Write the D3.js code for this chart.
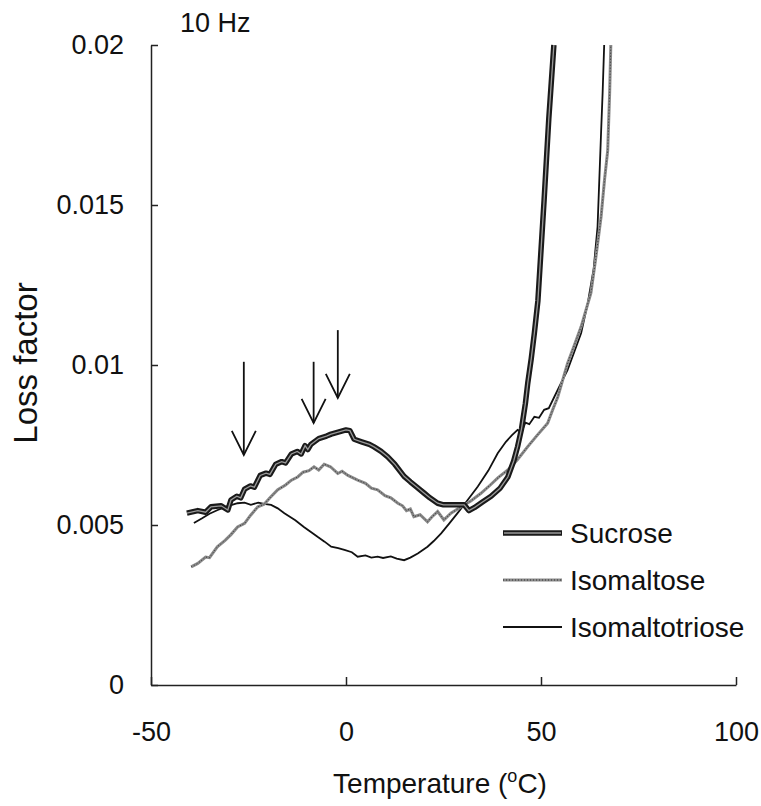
<!DOCTYPE html>
<html>
<head>
<meta charset="utf-8">
<script src="https://cdn.jsdelivr.net/npm/d3@7"></script>
<style>
  body { margin: 0; background: #fff; }
  text { font-family: "Liberation Sans", Arial, sans-serif; fill: #111; }
</style>
</head>
<body>
<svg id="chart" width="761" height="806"></svg>
<script>
// data (temperature in degC, loss factor)
var xTicks = [-50, 0, 50, 100]
var yTicks = [0, 0.005, 0.01, 0.015, 0.02]
var yTickLabels = ["0", "0.005", "0.01", "0.015", "0.02"]
var seriesNames = ["Sucrose", "Isomaltose", "Isomaltotriose"]

var sucroseT = [-40.8, -38, -36, -34.6, -32, -30.3, -29.5, -28, -27, -26, -24.5, -23.5, -22, -20.5, -19.5,
    -18, -16.5, -15.5, -14, -12.5, -11.5, -10.5, -9.8, -9, -7, -5, -3.8, -2, 0, 1, 2.1, 4, 6, 7.2, 9,
    10.7, 12.5, 14.9, 16.5, 18, 20, 21.5, 23.5, 25, 27, 30.3, 31.5, 33, 35, 37.2, 39.5, 41.5, 43, 44,
    45, 46, 46.6, 47.5, 48.3, 49.2, 50.8, 52, 53.3]
var sucroseL = [0.00537, 0.00545, 0.0054, 0.00557, 0.0056, 0.00547, 0.00578, 0.0059, 0.00585, 0.00612,
    0.00622, 0.00618, 0.00655, 0.00662, 0.00658, 0.0069, 0.00698, 0.00694, 0.00722, 0.0073, 0.00722,
    0.00748, 0.00736, 0.00752, 0.0077, 0.00778, 0.00784, 0.0079, 0.00797, 0.00795, 0.00768, 0.0076,
    0.00752, 0.00744, 0.0073, 0.00713, 0.0069, 0.00652, 0.00635, 0.0062, 0.006, 0.00585, 0.00568,
    0.00563, 0.00563, 0.00563, 0.00545, 0.00555, 0.00572, 0.0059, 0.00615, 0.0065, 0.007, 0.00745,
    0.008, 0.0088, 0.00943, 0.0102, 0.011, 0.012, 0.01516, 0.0177, 0.02]

var isomaltoseT = [-39.7, -38, -36, -35, -33, -31, -29.5, -27.8, -26, -24.5, -22.6, -21, -19.5, -17.5,
    -15.5, -14, -12.4, -11, -9.5, -8.2, -7, -5.6, -4, -2.1, -1, 0.5, 3, 5, 6.5, 8.1, 10, 11.5, 13.3,
    14.5, 15.5, 16.5, 17.4, 19, 20.9, 22, 23.5, 25.1, 26.9, 28, 29.5, 32, 34.6, 37, 39, 41.5, 44, 46.6,
    49, 51.7, 53, 54.3, 56.8, 58.5, 60.3, 62.8, 64, 65.4, 66.3, 67.1, 67.6, 67.9]
var isomaltoseL = [0.00369, 0.0038, 0.004, 0.00398, 0.00432, 0.00452, 0.0047, 0.00494, 0.00505, 0.0053,
    0.00557, 0.00565, 0.00585, 0.0061, 0.00625, 0.0064, 0.0065, 0.00665, 0.0067, 0.00682, 0.00672,
    0.0069, 0.00682, 0.00661, 0.00668, 0.00655, 0.0064, 0.0063, 0.00615, 0.0061, 0.00592, 0.00585,
    0.00568, 0.0056, 0.00545, 0.0055, 0.00526, 0.00532, 0.0051, 0.00525, 0.00542, 0.00516, 0.00537,
    0.00545, 0.00557, 0.00575, 0.00599, 0.00625, 0.00648, 0.00672, 0.00705, 0.00745, 0.0078, 0.00818,
    0.0086, 0.009, 0.01005, 0.0106, 0.0112, 0.01225, 0.0133, 0.01463, 0.0158, 0.0167, 0.0185, 0.02]

var isomaltotrioseT = [-39, -37, -35, -32.9, -30.5, -27.8, -26, -24.4, -22.5, -21, -19.2, -17.5, -15.8,
    -13, -10.8, -9, -7.3, -5.5, -3.8, -2, -0.4, 1.5, 3, 5, 6.5, 8.1, 9.5, 11.5, 13, 14.9, 16.5, 18.4,
    20.9, 22.5, 24.4, 26.5, 28.6, 31, 33.8, 36.5, 38.9, 41, 42.5, 44, 45, 46, 47, 48.3, 49.5, 50.8, 52,
    53.4, 55, 56.8, 58.5, 60.3, 62, 63.5, 64.5, 65.4, 65.8, 66.2]
var isomaltotrioseL = [0.00506, 0.0052, 0.00535, 0.00547, 0.00558, 0.00568, 0.0057, 0.00563, 0.0057,
    0.00566, 0.00563, 0.00552, 0.00537, 0.00515, 0.00494, 0.00478, 0.00463, 0.00448, 0.00432, 0.00428,
    0.00422, 0.00415, 0.00401, 0.00405, 0.00398, 0.00401, 0.00397, 0.00402, 0.00395, 0.0039, 0.00398,
    0.00411, 0.00432, 0.0045, 0.00474, 0.00505, 0.00537, 0.00575, 0.0062, 0.0067, 0.00724, 0.0076,
    0.0078, 0.00797, 0.0079, 0.0082, 0.00815, 0.00838, 0.00835, 0.0086, 0.00865, 0.009, 0.0094,
    0.00984, 0.0104, 0.011, 0.01194, 0.013, 0.01432, 0.01725, 0.0185, 0.02]

// arrows marking the relaxation peaks: temperature, top and tip loss factor
var arrowT = [-26.2, -8.3, -2.1]
var arrowTop = [0.0101, 0.0101, 0.01109]
var arrowTip = [0.00719, 0.00819, 0.00897]

var svg = d3.select("#chart")
var margin = { left: 151, top: 45, right: 25, bottom: 121 }
var width = 761 - margin.left - margin.right,
    height = 806 - margin.top - margin.bottom

var x = d3.scaleLinear().domain([-50, 100]).range([0, 585])
var y = d3.scaleLinear().domain([0, 0.02]).range([height, 0])

var g = svg.append("g").attr("transform", "translate(" + margin.left + "," + margin.top + ")")

function zip(ts, ls) {
    return ts.map(function(t, i) { return [t, ls[i]] })
}

var line = d3.line()
    .x(function(d) { return x(d[0]) })
    .y(function(d) { return y(d[1]) })

// axes
var xAxis = g.append("g")
    .attr("transform", "translate(0," + height + ")")
    .call(d3.axisBottom(x).tickValues(xTicks).tickSizeInner(-8).tickSizeOuter(0).tickPadding(37)
        .tickFormat(function(d) { return d }))
var yAxis = g.append("g")
    .call(d3.axisLeft(y).tickValues(yTicks).tickSizeInner(-7).tickSizeOuter(0).tickPadding(27)
        .tickFormat(function(d, i) { return yTickLabels[i] }))

g.selectAll(".domain, .tick line").attr("stroke", "#222").attr("stroke-width", 1.5)
g.selectAll(".tick text")
    .style("font-family", "'Liberation Sans', Arial, sans-serif")
    .style("font-size", "27px")
    .attr("fill", "#111")

// curves
var sucrose = zip(sucroseT, sucroseL),
    isomaltose = zip(isomaltoseT, isomaltoseL),
    isomaltotriose = zip(isomaltotrioseT, isomaltotrioseL)

g.append("path").datum(isomaltotriose).attr("d", line)
    .attr("fill", "none").attr("stroke", "#111").attr("stroke-width", 1.8)

g.append("path").datum(isomaltose).attr("d", line)
    .attr("fill", "none").attr("stroke", "#8a8a8a").attr("stroke-width", 3)
g.append("path").datum(isomaltose).attr("d", line)
    .attr("fill", "none").attr("stroke", "#333").attr("stroke-width", 1)
    .attr("stroke-dasharray", "1,2")

g.append("path").datum(sucrose).attr("d", line)
    .attr("fill", "none").attr("stroke", "#1a1a1a").attr("stroke-width", 5.5)
    .attr("stroke-linejoin", "round")
g.append("path").datum(sucrose).attr("d", line)
    .attr("fill", "none").attr("stroke", "#9a9a9a").attr("stroke-width", 1.3)

// arrows
arrowT.forEach(function(t, i) {
    var ax = x(t), y0 = y(arrowTop[i]), y1 = y(arrowTip[i])
    g.append("line")
        .attr("x1", ax).attr("x2", ax).attr("y1", y0).attr("y2", y1)
        .attr("stroke", "#111").attr("stroke-width", 1.8)
    g.append("path")
        .attr("d", "M" + (ax - 12) + "," + (y1 - 24) + "L" + ax + "," + y1 + "L" + (ax + 12) + "," + (y1 - 24))
        .attr("fill", "none").attr("stroke", "#111").attr("stroke-width", 1.8)
})

// legend
var legend = svg.append("g").attr("transform", "translate(503,533)")
var legendItem = legend.selectAll(".item")
    .data(seriesNames)
    .enter().append("g")
    .attr("class", "item")
    .attr("transform", function(d, i) { return "translate(0," + (i * 47) + ")" })

legendItem.each(function(d, i) {
    var item = d3.select(this)
    if (i == 0) {
        item.append("line").attr("x1", 0).attr("x2", 59).attr("stroke", "#1a1a1a").attr("stroke-width", 5.5)
        item.append("line").attr("x1", 1).attr("x2", 58).attr("stroke", "#9a9a9a").attr("stroke-width", 1.3)
    } else if (i == 1) {
        item.append("line").attr("x1", 0).attr("x2", 59).attr("stroke", "#8a8a8a").attr("stroke-width", 3)
        item.append("line").attr("x1", 0).attr("x2", 59).attr("stroke", "#333").attr("stroke-width", 1)
            .attr("stroke-dasharray", "1,2")
    } else {
        item.append("line").attr("x1", 0).attr("x2", 59).attr("stroke", "#111").attr("stroke-width", 1.8)
    }
    item.append("text")
        .attr("x", 67).attr("y", 10)
        .style("font-size", "28px")
        .text(d)
})

// titles
svg.append("text").attr("x", 180).attr("y", 32).style("font-size", "27px").text("10 Hz")

svg.append("text")
    .attr("transform", "translate(37,363) rotate(-90)")
    .attr("text-anchor", "middle")
    .style("font-size", "33px")
    .text("Loss factor")

var xl = svg.append("text")
    .attr("x", 440).attr("y", 793)
    .attr("text-anchor", "middle")
    .style("font-size", "28px")
xl.append("tspan").text("Temperature (")
xl.append("tspan").attr("dy", -11).style("font-size", "18px").text("o")
xl.append("tspan").attr("dy", 11).text("C)")
</script>
</body>
</html>
